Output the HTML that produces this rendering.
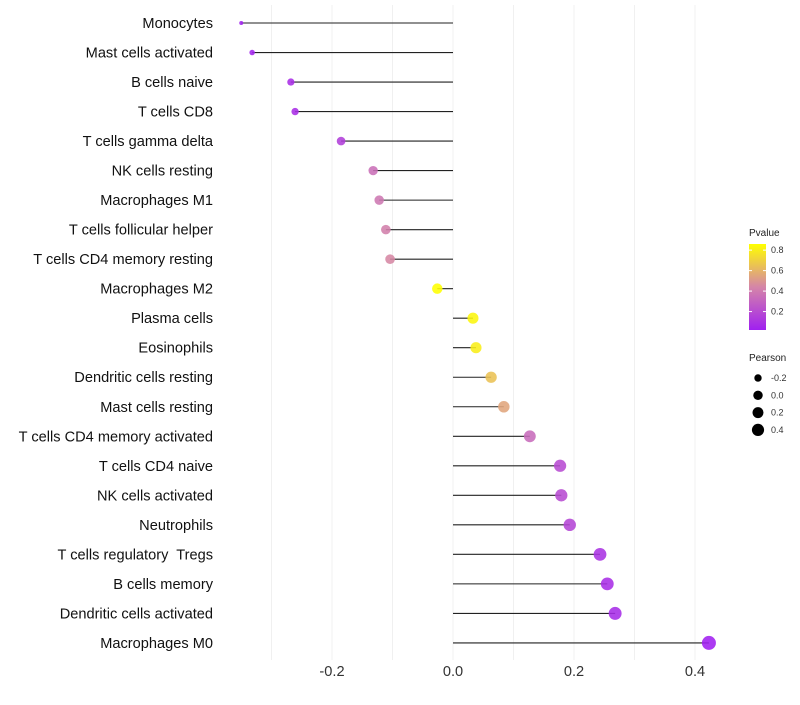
<!DOCTYPE html>
<html><head><meta charset="utf-8"><style>
body{margin:0;background:#fff;font-family:"Liberation Sans",sans-serif}
text{white-space:pre}
</style></head><body>
<svg id="c" width="800" height="700" xmlns="http://www.w3.org/2000/svg"></svg>
<script>
const cells=["Monocytes","Mast cells activated","B cells naive","T cells CD8","T cells gamma delta","NK cells resting","Macrophages M1","T cells follicular helper","T cells CD4 memory resting","Macrophages M2","Plasma cells","Eosinophils","Dendritic cells resting","Mast cells resting","T cells CD4 memory activated","T cells CD4 naive","NK cells activated","Neutrophils","T cells regulatory  Tregs","B cells memory","Dendritic cells activated","Macrophages M0"];
const pearson=[-0.350,-0.332,-0.268,-0.261,-0.185,-0.132,-0.122,-0.111,-0.104,-0.026,0.033,0.038,0.063,0.084,0.127,0.177,0.179,0.193,0.243,0.255,0.268,0.423];
const pvalue=[0.03,0.04,0.08,0.08,0.15,0.35,0.38,0.42,0.45,0.86,0.83,0.80,0.65,0.55,0.33,0.2,0.2,0.18,0.1,0.08,0.07,0.02];
const xTicks=[-0.2,0.0,0.2,0.4];
const gridVals=[-0.3,-0.2,-0.1,0,0.1,0.2,0.3,0.4];
const pTicks=[0.2,0.4,0.6,0.8];
const sizeTicks=[-0.2,0.0,0.2,0.4];

const NS="http://www.w3.org/2000/svg";
const svg=document.getElementById('c');
function mk(t,a,p){const e=document.createElementNS(NS,t);for(const k in a)e.setAttribute(k,a[k]);(p||svg).appendChild(e);return e;}
const x=v=>453+v*605;
const y=i=>23+i*29.52;
const rad=v=>2+5*Math.sqrt(Math.max(0,(v+0.35)/0.77));
function lerp(a,b,t){return a.map((c,i)=>Math.round(c+(b[i]-c)*t));}
function col(p){const t=Math.max(0,Math.min(1,(p-0.02)/0.84));const lo=[160,32,240],mid=[213,133,168],hi=[255,255,0];
const c=t<0.5?lerp(lo,mid,t/0.5):lerp(mid,hi,(t-0.5)/0.5);return `rgb(${c})`;}

gridVals.forEach(v=>{const g=mk('line',{x1:x(v),x2:x(v),y1:5,y2:660,stroke:'#f0f0f0','stroke-width':1});

});

cells.forEach((n,i)=>{
const t=mk('text',{x:213,y:y(i)+5,'text-anchor':'end','font-size':14.6,fill:'#111'});t.textContent=n;


const l=mk('line',{x1:x(0),x2:x(pearson[i]),y1:y(i),y2:y(i),stroke:'#222','stroke-width':1.1});


const c=mk('circle',{cx:x(pearson[i]),cy:y(i),r:rad(pearson[i]),fill:col(pvalue[i]),'fill-opacity':0.88});


});

xTicks.forEach(v=>{const t=mk('text',{x:x(v),y:676,'text-anchor':'middle','font-size':14.6,fill:'#333'});t.textContent=v.toFixed(1);

});

const lt=mk('text',{x:749,y:236,'font-size':10,fill:'#222'});lt.textContent='Pvalue';


const defs=mk('defs',{});const gr=mk('linearGradient',{id:'pg',x1:0,y1:1,x2:0,y2:0},defs);
[0,0.25,0.5,0.75,1].forEach(s=>mk('stop',{offset:s,'stop-color':col(0.02+s*0.84)},gr));
const bar=mk('rect',{x:749,y:244,width:17,height:86,fill:'url(#pg)'});


const py=p=>330-(p-0.02)/0.84*86;
pTicks.forEach(p=>{mk('line',{x1:749,x2:752,y1:py(p),y2:py(p),stroke:'#fff'});mk('line',{x1:763,x2:766,y1:py(p),y2:py(p),stroke:'#fff'});
const t=mk('text',{x:771,y:py(p)+3,'font-size':9,fill:'#333'});t.textContent=p.toFixed(1);

});

const st=mk('text',{x:749,y:361,'font-size':10,fill:'#222'});st.textContent='Pearson';


sizeTicks.forEach((v,i)=>{const cy=378+i*17.3;const c=mk('circle',{cx:758,cy:cy,r:rad(v)*0.88,fill:'#000'});


const t=mk('text',{x:771,y:cy+3,'font-size':9,fill:'#333'});t.textContent=v.toFixed(1);

});
</script>
</body></html>
